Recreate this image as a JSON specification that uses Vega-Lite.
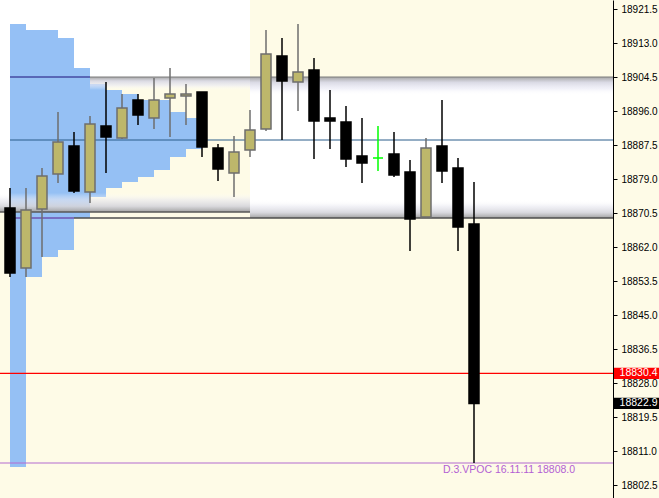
{
  "$schema": "https://vega.github.io/schema/vega-lite/v6.json",
  "width": 613,
  "height": 498,
  "padding": {"left": 0, "top": 0, "right": 46, "bottom": 0},
  "autosize": {"type": "none"},
  "background": "#fefbe7",
  "config": {
    "view": {"stroke": null},
    "font": "Liberation Sans",
    "axisY": {"labelFont": "Liberation Sans", "labelFontSize": 10, "labelColor": "#000000", "tickColor": "#000000", "domainColor": "#000000", "tickSize": 4, "labelPadding": 4, "grid": false}
  },
  "datasets": {
    "regions": [
      {"x1": -0.625, "x2": 0, "top": 18923.75, "bottom": 18870.75},
      {"x1": 0, "x2": 15, "top": 18923.75, "bottom": 18904.5},
      {"x1": 15, "x2": 37.6875, "top": 18904.5, "bottom": 18869.25}
    ],
    "topBands": [
      {"x1": 5, "x2": 15, "top": 18904.5, "bottom": 18901.25},
      {"x1": 15, "x2": 37.6875, "top": 18904.5, "bottom": 18900.0}
    ],
    "bottomBands": [
      {"x1": -0.625, "x2": 15, "top": 18875.5, "bottom": 18870.75},
      {"x1": 15, "x2": 37.6875, "top": 18873.75, "bottom": 18869.25}
    ],
    "profile": [
      {"hi": 18917.75, "lo": 18916.25, "vol": 1.0},
      {"hi": 18916.25, "lo": 18914.25, "vol": 3.0},
      {"hi": 18914.25, "lo": 18906.75, "vol": 4.0},
      {"hi": 18906.75, "lo": 18902.75, "vol": 5.0},
      {"hi": 18902.75, "lo": 18901.25, "vol": 6.0},
      {"hi": 18901.25, "lo": 18900.25, "vol": 7.0},
      {"hi": 18900.25, "lo": 18898.75, "vol": 8.0},
      {"hi": 18898.75, "lo": 18895.75, "vol": 10.0},
      {"hi": 18895.75, "lo": 18894.25, "vol": 11.0},
      {"hi": 18894.25, "lo": 18890.5, "vol": 11.7},
      {"hi": 18890.5, "lo": 18886.5, "vol": 12.0},
      {"hi": 18886.5, "lo": 18884.5, "vol": 11.0},
      {"hi": 18884.5, "lo": 18881.25, "vol": 10.0},
      {"hi": 18881.25, "lo": 18879.5, "vol": 9.0},
      {"hi": 18879.5, "lo": 18878.25, "vol": 8.0},
      {"hi": 18878.25, "lo": 18876.75, "vol": 7.0},
      {"hi": 18876.75, "lo": 18874.5, "vol": 6.0},
      {"hi": 18874.5, "lo": 18869.25, "vol": 5.0},
      {"hi": 18869.25, "lo": 18861.25, "vol": 4.0},
      {"hi": 18861.25, "lo": 18859.5, "vol": 3.0},
      {"hi": 18859.5, "lo": 18854.5, "vol": 2.0},
      {"hi": 18854.5, "lo": 18807.0, "vol": 1.0}
    ],
    "levels": [
      {"name": "prior VAH", "price": 18904.5, "from": 5, "to": 37.6875},
      {"name": "profile VAH", "price": 18904.5, "from": 0, "to": 5},
      {"name": "prior VAL", "price": 18870.75, "from": -0.625, "to": 15},
      {"name": "VAL", "price": 18869.25, "from": 4, "to": 37.6875},
      {"name": "profile VAL", "price": 18869.25, "from": 0, "to": 4},
      {"name": "POC", "price": 18888.75, "from": 0, "to": 37.6875},
      {"name": "last", "price": 18830.4, "from": -0.625, "to": 37.6875},
      {"name": "VPOC", "price": 18808.0, "from": -0.625, "to": 37.6875}
    ],
    "candles": [
      {"i": 0, "o": 18871.75, "h": 18876.75, "l": 18854.5, "c": 18855.5},
      {"i": 1, "o": 18856.75, "h": 18876.75, "l": 18854.5, "c": 18871.25},
      {"i": 2, "o": 18871.5, "h": 18881.75, "l": 18859.5, "c": 18879.75},
      {"i": 3, "o": 18880.25, "h": 18895.75, "l": 18878.0, "c": 18888.25},
      {"i": 4, "o": 18887.25, "h": 18890.75, "l": 18875.5, "c": 18876.0},
      {"i": 5, "o": 18875.75, "h": 18894.75, "l": 18873.0, "c": 18892.75},
      {"i": 6, "o": 18892.25, "h": 18903.25, "l": 18880.5, "c": 18889.5},
      {"i": 7, "o": 18889.25, "h": 18900.25, "l": 18889.0, "c": 18896.75},
      {"i": 8, "o": 18898.75, "h": 18900.25, "l": 18892.5, "c": 18895.0},
      {"i": 9, "o": 18894.25, "h": 18904.25, "l": 18891.5, "c": 18898.75},
      {"i": 10, "o": 18899.25, "h": 18906.75, "l": 18889.5, "c": 18900.25},
      {"i": 11, "o": 18899.75, "h": 18902.75, "l": 18892.5, "c": 18900.25},
      {"i": 12, "o": 18900.75, "h": 18900.75, "l": 18884.5, "c": 18887.0},
      {"i": 13, "o": 18886.75, "h": 18887.75, "l": 18878.5, "c": 18881.5},
      {"i": 14, "o": 18880.5, "h": 18889.75, "l": 18874.5, "c": 18885.75},
      {"i": 15, "o": 18886.25, "h": 18896.25, "l": 18884.5, "c": 18891.25},
      {"i": 16, "o": 18891.5, "h": 18916.25, "l": 18891.0, "c": 18910.25},
      {"i": 17, "o": 18909.75, "h": 18914.25, "l": 18888.75, "c": 18903.5},
      {"i": 18, "o": 18903.25, "h": 18917.75, "l": 18896.0, "c": 18905.75},
      {"i": 19, "o": 18906.25, "h": 18909.25, "l": 18884.0, "c": 18893.5},
      {"i": 20, "o": 18894.25, "h": 18901.25, "l": 18886.5, "c": 18893.5},
      {"i": 21, "o": 18893.25, "h": 18897.25, "l": 18882.0, "c": 18884.0},
      {"i": 22, "o": 18884.75, "h": 18894.25, "l": 18878.0, "c": 18883.0},
      {"i": 23, "o": 18884.25, "h": 18892.25, "l": 18881.0, "c": 18884.25},
      {"i": 24, "o": 18885.25, "h": 18890.75, "l": 18879.5, "c": 18880.0},
      {"i": 25, "o": 18880.75, "h": 18883.75, "l": 18861.0, "c": 18869.0},
      {"i": 26, "o": 18869.5, "h": 18889.25, "l": 18869.25, "c": 18886.75},
      {"i": 27, "o": 18887.25, "h": 18898.75, "l": 18878.0, "c": 18881.0},
      {"i": 28, "o": 18881.75, "h": 18884.25, "l": 18861.0, "c": 18867.0},
      {"i": 29, "o": 18867.75, "h": 18878.25, "l": 18808.0, "c": 18822.9}
    ],
    "tags": [
      {"price": 18830.4, "label": "18830.4", "kind": "line"},
      {"price": 18822.9, "label": "18822.9", "kind": "close"}
    ],
    "notes": [
      {"price": 18808.0, "label": "D.3.VPOC 16.11.11 18808.0"}
    ]
  },
  "layer": [
    {
      "data": {"name": "regions"},
      "mark": {"type": "rect", "fill": "#ffffff"},
      "encoding": {
        "x": {"field": "x1", "type": "quantitative", "scale": {"domain": [-0.625, 37.6875], "nice": false, "zero": false, "padding": 0}, "axis": null},
        "x2": {"field": "x2"},
        "y": {"field": "top", "type": "quantitative", "title": null, "scale": {"domain": [18799.25, 18923.75], "nice": false, "zero": false, "padding": 0},
              "axis": {"orient": "right", "values": [18802.5, 18811, 18819.5, 18828, 18836.5, 18845, 18853.5, 18862, 18870.5, 18879, 18887.5, 18896, 18904.5, 18913, 18921.5], "format": ".1f", "title": null}},
        "y2": {"field": "bottom"}
      }
    },
    {
      "data": {"name": "profile"},
      "mark": {"type": "rect", "fill": "#8fbdf4", "opacity": 0.95},
      "encoding": {
        "x": {"field": "vol", "type": "quantitative", "axis": null, "scale": {"domain": [-0.625, 37.6875], "nice": false, "zero": false, "padding": 0}},
        "x2": {"datum": 0},
        "y": {"field": "hi", "type": "quantitative", "title": null, "scale": {"domain": [18799.25, 18923.75], "nice": false, "zero": false, "padding": 0},
              "axis": {"orient": "right", "values": [18802.5, 18811, 18819.5, 18828, 18836.5, 18845, 18853.5, 18862, 18870.5, 18879, 18887.5, 18896, 18904.5, 18913, 18921.5], "format": ".1f", "title": null}},
        "y2": {"field": "lo"}
      }
    },
    {
      "data": {"name": "topBands"},
      "mark": {"type": "rect", "fill": {"gradient": "linear", "x1": 0, "y1": 0, "x2": 0, "y2": 1, "stops": [
        {"offset": 0, "color": "#a6a6a6"},
        {"offset": 0.3, "color": "rgba(214,214,226,0.9)"},
        {"offset": 0.65, "color": "rgba(232,232,245,0.6)"},
        {"offset": 1, "color": "rgba(255,255,255,0)"}]}},
      "encoding": {
        "x": {"field": "x1", "type": "quantitative", "axis": null, "scale": {"domain": [-0.625, 37.6875], "nice": false, "zero": false, "padding": 0}},
        "x2": {"field": "x2"},
        "y": {"field": "top", "type": "quantitative", "title": null, "scale": {"domain": [18799.25, 18923.75], "nice": false, "zero": false, "padding": 0},
              "axis": {"orient": "right", "values": [18802.5, 18811, 18819.5, 18828, 18836.5, 18845, 18853.5, 18862, 18870.5, 18879, 18887.5, 18896, 18904.5, 18913, 18921.5], "format": ".1f", "title": null}},
        "y2": {"field": "bottom"}
      }
    },
    {
      "data": {"name": "bottomBands"},
      "mark": {"type": "rect", "fill": {"gradient": "linear", "x1": 0, "y1": 0, "x2": 0, "y2": 1, "stops": [
        {"offset": 0, "color": "rgba(255,255,255,0)"},
        {"offset": 0.35, "color": "rgba(232,232,240,0.6)"},
        {"offset": 0.7, "color": "rgba(212,212,218,0.9)"},
        {"offset": 1, "color": "#a2a2a2"}]}},
      "encoding": {
        "x": {"field": "x1", "type": "quantitative", "axis": null, "scale": {"domain": [-0.625, 37.6875], "nice": false, "zero": false, "padding": 0}},
        "x2": {"field": "x2"},
        "y": {"field": "top", "type": "quantitative", "title": null, "scale": {"domain": [18799.25, 18923.75], "nice": false, "zero": false, "padding": 0},
              "axis": {"orient": "right", "values": [18802.5, 18811, 18819.5, 18828, 18836.5, 18845, 18853.5, 18862, 18870.5, 18879, 18887.5, 18896, 18904.5, 18913, 18921.5], "format": ".1f", "title": null}},
        "y2": {"field": "bottom"}
      }
    },
    {
      "data": {"name": "levels"},
      "mark": {"type": "rule"},
      "encoding": {
        "x": {"field": "from", "type": "quantitative", "axis": null, "scale": {"domain": [-0.625, 37.6875], "nice": false, "zero": false, "padding": 0}},
        "x2": {"field": "to"},
        "y": {"field": "price", "type": "quantitative", "title": null, "scale": {"domain": [18799.25, 18923.75], "nice": false, "zero": false, "padding": 0},
              "axis": {"orient": "right", "values": [18802.5, 18811, 18819.5, 18828, 18836.5, 18845, 18853.5, 18862, 18870.5, 18879, 18887.5, 18896, 18904.5, 18913, 18921.5], "format": ".1f", "title": null}},
        "stroke": {"condition": [
          {"test": "datum.name == 'prior VAH'", "value": "#7c7c7c"},
          {"test": "datum.name == 'profile VAH'", "value": "#1c0f78"},
          {"test": "datum.name == 'prior VAL'", "value": "#585858"},
          {"test": "datum.name == 'VAL'", "value": "#4e4e4e"},
          {"test": "datum.name == 'profile VAL'", "value": "#5b1f8f"},
          {"test": "datum.name == 'POC'", "value": "#2a5c8a"},
          {"test": "datum.name == 'last'", "value": "#ff0000"}
        ], "value": "#b36ad0"},
        "strokeWidth": {"condition": [
          {"test": "datum.name == 'VAL' || datum.name == 'prior VAL'", "value": 1.6},
          {"test": "datum.name == 'last'", "value": 1.4}
        ], "value": 1}
      }
    },
    {
      "data": {"name": "candles"},
      "mark": {"type": "rule", "strokeWidth": 1.5},
      "encoding": {
        "x": {"field": "i", "type": "quantitative", "axis": null, "scale": {"domain": [-0.625, 37.6875], "nice": false, "zero": false, "padding": 0}},
        "y": {"field": "l", "type": "quantitative", "title": null, "scale": {"domain": [18799.25, 18923.75], "nice": false, "zero": false, "padding": 0},
              "axis": {"orient": "right", "values": [18802.5, 18811, 18819.5, 18828, 18836.5, 18845, 18853.5, 18862, 18870.5, 18879, 18887.5, 18896, 18904.5, 18913, 18921.5], "format": ".1f", "title": null}},
        "y2": {"field": "h"},
        "stroke": {"condition": [{"test": "datum.c == datum.o", "value": "#00ff00"}, {"test": "datum.c > datum.o", "value": "#6e6e6e"}], "value": "#000000"}
      }
    },
    {
      "data": {"name": "candles"},
      "mark": {"type": "bar", "size": 10, "strokeWidth": 1.5},
      "encoding": {
        "x": {"field": "i", "type": "quantitative", "axis": null, "scale": {"domain": [-0.625, 37.6875], "nice": false, "zero": false, "padding": 0}},
        "y": {"field": "o", "type": "quantitative", "title": null, "scale": {"domain": [18799.25, 18923.75], "nice": false, "zero": false, "padding": 0},
              "axis": {"orient": "right", "values": [18802.5, 18811, 18819.5, 18828, 18836.5, 18845, 18853.5, 18862, 18870.5, 18879, 18887.5, 18896, 18904.5, 18913, 18921.5], "format": ".1f", "title": null}},
        "y2": {"field": "c"},
        "fill": {"condition": [{"test": "datum.c == datum.o", "value": "#00ff00"}, {"test": "datum.c > datum.o", "value": "#bdb76b"}], "value": "#000000"},
        "stroke": {"condition": [{"test": "datum.c == datum.o", "value": "#00ff00"}, {"test": "datum.c > datum.o", "value": "#6e6e6e"}], "value": "#000000"}
      }
    },
    {
      "data": {"name": "tags"},
      "mark": {"type": "point", "filled": true, "opacity": 1, "shape": "M-1,-0.25H1V0.25H-1Z", "size": 2025, "strokeWidth": 0},
      "encoding": {
        "x": {"datum": 39.156, "type": "quantitative", "axis": null, "scale": {"domain": [-0.625, 37.6875], "nice": false, "zero": false, "padding": 0}},
        "y": {"field": "price", "type": "quantitative", "title": null, "scale": {"domain": [18799.25, 18923.75], "nice": false, "zero": false, "padding": 0},
              "axis": {"orient": "right", "values": [18802.5, 18811, 18819.5, 18828, 18836.5, 18845, 18853.5, 18862, 18870.5, 18879, 18887.5, 18896, 18904.5, 18913, 18921.5], "format": ".1f", "title": null}},
        "fill": {"condition": {"test": "datum.kind == 'line'", "value": "#ff0000"}, "value": "#000000"}
      }
    },
    {
      "data": {"name": "tags"},
      "mark": {"type": "text", "align": "left", "baseline": "middle", "fontSize": 10.5, "font": "Liberation Sans", "fill": "#ffffff"},
      "encoding": {
        "x": {"datum": 38.1, "type": "quantitative", "axis": null, "scale": {"domain": [-0.625, 37.6875], "nice": false, "zero": false, "padding": 0}},
        "y": {"field": "price", "type": "quantitative", "title": null, "scale": {"domain": [18799.25, 18923.75], "nice": false, "zero": false, "padding": 0},
              "axis": {"orient": "right", "values": [18802.5, 18811, 18819.5, 18828, 18836.5, 18845, 18853.5, 18862, 18870.5, 18879, 18887.5, 18896, 18904.5, 18913, 18921.5], "format": ".1f", "title": null}},
        "text": {"field": "label"}
      }
    },
    {
      "data": {"name": "notes"},
      "mark": {"type": "text", "align": "left", "baseline": "top", "dy": 2, "fontSize": 10.5, "font": "Liberation Sans", "fill": "#b35fd4"},
      "encoding": {
        "x": {"datum": 27.06, "type": "quantitative", "axis": null, "scale": {"domain": [-0.625, 37.6875], "nice": false, "zero": false, "padding": 0}},
        "y": {"field": "price", "type": "quantitative", "title": null, "scale": {"domain": [18799.25, 18923.75], "nice": false, "zero": false, "padding": 0},
              "axis": {"orient": "right", "values": [18802.5, 18811, 18819.5, 18828, 18836.5, 18845, 18853.5, 18862, 18870.5, 18879, 18887.5, 18896, 18904.5, 18913, 18921.5], "format": ".1f", "title": null}},
        "text": {"field": "label"}
      }
    }
  ]
}
